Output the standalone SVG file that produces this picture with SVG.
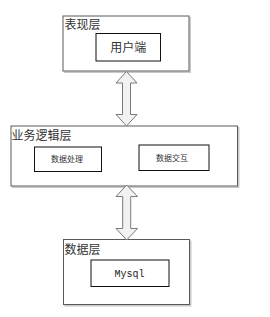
<svg xmlns="http://www.w3.org/2000/svg" width="270" height="317" viewBox="0 0 270 317">
<style>
.outer{fill:#ffffff;stroke:#5a5a5a;stroke-width:1}
.shadow{fill:none;stroke:#c8c8c8;stroke-width:1.5}
.inner{fill:#ffffff;stroke:#111111;stroke-width:1}
.lbl{font-family:"Noto Sans CJK SC","Noto Sans",sans-serif;fill:#333333;font-size:12px}
.sm{font-family:"Noto Sans CJK SC","Noto Sans",sans-serif;fill:#333333;font-size:8px}
.mono{font-family:"Liberation Mono",monospace;fill:#222222;font-size:10px}
.arrow{fill:#f2f2f2;stroke:#7a7a7a;stroke-width:1}
</style>
<rect width="270" height="317" fill="#ffffff"/>
<g id="layer-presentation">
<path class="shadow" d="M190.2,17 V72.2 H64"/>
<rect class="outer" x="63" y="16" width="126" height="55"/>
<text class="lbl" x="64.5" y="29">表现层</text>
</g>
<g id="node-client">
<rect class="inner" x="96" y="33.5" width="64.5" height="27.5"/>
<text class="lbl" x="128.2" y="51.5" text-anchor="middle">用户端</text>
</g>
<g id="layer-business">
<path class="shadow" d="M238.7,127 V187.2 H12"/>
<rect class="outer" x="11" y="126" width="226.5" height="60"/>
<text class="lbl" x="11.5" y="139.5">业务逻辑层</text>
</g>
<g id="node-process">
<rect class="inner" x="34.5" y="147" width="67" height="24.5"/>
<text class="sm" x="67" y="162" text-anchor="middle">数据处理</text>
</g>
<g id="node-interact">
<rect class="inner" x="139" y="145" width="70" height="25.5"/>
<text class="sm" x="172" y="160.5" text-anchor="middle">数据交互</text>
</g>
<g id="layer-data">
<path class="shadow" d="M190.7,240.5 V305.7 H64.5"/>
<rect class="outer" x="63.5" y="239.5" width="126" height="65"/>
<text class="lbl" x="64.5" y="253.5">数据层</text>
</g>
<g id="node-mysql">
<rect class="inner" x="91" y="260" width="78" height="26.5"/>
<text class="mono" x="129.5" y="276.5" text-anchor="middle">Mysql</text>
</g>
<g id="connectors">
<path class="arrow" d="M126.5,71.5 L137,83 L130.5,83 L130.5,114.5 L137,114.5 L126.5,126 L116,114.5 L122.5,114.5 L122.5,83 L116,83 Z"/>
<path class="arrow" d="M126.7,185 L137.5,196.5 L130.7,196.5 L130.7,228.5 L137.5,228.5 L126.7,240 L116,228.5 L122.7,228.5 L122.7,196.5 L116,196.5 Z"/>
</g>
</svg>
